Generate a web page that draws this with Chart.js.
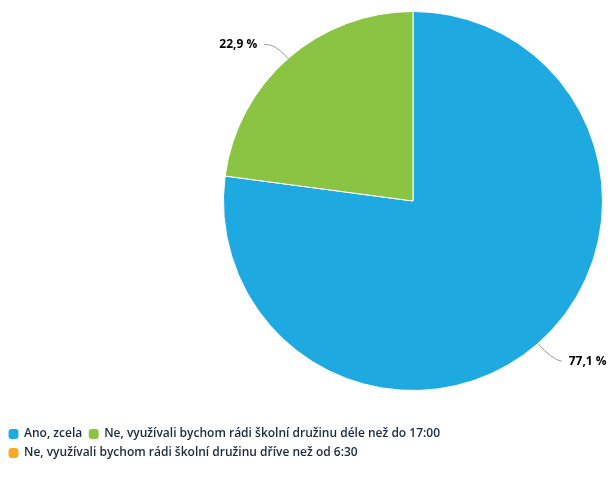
<!DOCTYPE html>
<html><head><meta charset="utf-8">
<script src="https://cdn.jsdelivr.net/npm/chart.js@4/dist/chart.umd.min.js"></script>
<style>html,body{margin:0;padding:0;background:#fff}#wrap{width:612px;height:489px}</style>
</head><body><div id="wrap"><canvas id="c"></canvas></div>
<script>
const categories = ["Ano, zcela", "Ne, využívali bychom rádi školní družinu déle než do 17:00", "Ne, využívali bychom rádi školní družinu dříve než od 6:30"];
const values = [77.1, 22.9, 0];
const valueLabels = ["77,1 %", "22,9 %", "0 %"];
const colors = ["#1fa9e1", "#8bc443", "#f8a826"];

const areaPlugin = {
  id: 'area',
  afterLayout(chart) {
    const a = chart.chartArea;
    a.left = 223; a.right = 603; a.top = 11; a.bottom = 391;
    a.width = a.right - a.left; a.height = a.bottom - a.top;
  }
};
const labelPlugin = {
  id: 'lbl',
  afterDatasetsDraw(chart) {
    const ctx = chart.ctx;
    const meta = chart.getDatasetMeta(0);
    meta.data.forEach((arc, i) => {
      if (!values[i]) return;
      const mid = (arc.startAngle + arc.endAngle) / 2;
      const r = arc.outerRadius;
      const cx = arc.x, cy = arc.y;
      const p0 = [cx + Math.cos(mid) * r, cy + Math.sin(mid) * r];
      const p1 = [cx + Math.cos(mid) * (r + 21), cy + Math.sin(mid) * (r + 21)];
      const right = Math.cos(mid) >= 0;
      const p2 = [p1[0] + (right ? 10 : -10), p1[1] + 2];
      ctx.save();
      ctx.strokeStyle = '#999';
      ctx.lineWidth = 1;
      ctx.beginPath();
      ctx.moveTo(p0[0], p0[1]);
      ctx.quadraticCurveTo(p1[0], p1[1], p2[0], p2[1]);
      ctx.stroke();
      ctx.fillStyle = '#000';
      ctx.font = 'bold 12px "Open Sans"';
      ctx.textBaseline = 'middle';
      ctx.textAlign = right ? 'left' : 'right';
      ctx.fillText(valueLabels[i], p2[0] + (right ? 7 : -7), p2[1]);
      ctx.restore();
    });
  }
};

new Chart(document.getElementById('c'), {
  type: 'pie',
  data: { labels: categories, datasets: [{ data: values, backgroundColor: colors, borderColor: '#fff', borderWidth: 1 }] },
  options: {
    responsive: true, maintainAspectRatio: false, animation: false,
    layout: { padding: { left: 2, right: 0, top: 0, bottom: 20 } },
    plugins: {
      tooltip: { enabled: false },
      legend: {
        position: 'bottom', align: 'start',
        labels: {
          usePointStyle: true, pointStyle: 'rectRounded', boxWidth: 9, boxHeight: 9, padding: 7,
          color: '#1c2b3c', font: { family: '"Open Sans"', size: 12, weight: '600' }
        }
      }
    }
  },
  plugins: [areaPlugin, labelPlugin]
});
</script></body></html>
